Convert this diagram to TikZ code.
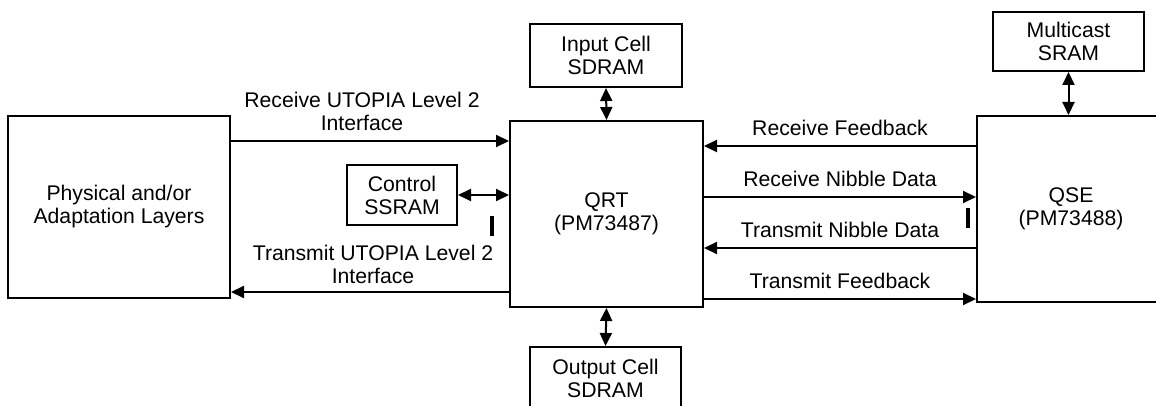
\documentclass[tikz,border=0pt]{standalone}
\usepackage{fontspec}
\setmainfont{Liberation Sans}
\usetikzlibrary{arrows.meta, positioning, calc}

\tikzset{
	blk/.style={draw, line width=1pt, inner sep=0pt, align=center, font=\fontsize{10.6}{11.5}\selectfont},
	lbl/.style={align=center, inner sep=0pt, font=\fontsize{10.6}{11.5}\selectfont},
	flow/.style={line width=1pt, -{Triangle[length=6.5pt,width=6pt]}},
	bothway/.style={line width=1pt, {Triangle[length=6.5pt,width=6pt]}-{Triangle[length=6.5pt,width=6pt]}}
}

\begin{document}
\begin{tikzpicture}[x=0.5pt, y=-0.5pt]
			
			\clip (0,0) rectangle (1156,406);
			
			% blocks
			\node [blk, minimum width=111pt, minimum height=91pt] (phys) at (119,207) {Physical and/or\\Adaptation Layers};
			\node [blk, minimum width=96.5pt, minimum height=93pt] (qrt) at (606.5,214) {QRT\\(PM73487)};
			\node [blk, minimum width=94pt, minimum height=93pt] (qse) at (1071,209) {QSE\\(PM73488)};
			\node [blk, minimum width=76pt, minimum height=31.5pt] (insd) at (606,55.5) {Input Cell\\SDRAM};
			\node [blk, minimum width=75.5pt, minimum height=31.5pt] (outsd) at (605.5,378.5) {Output Cell\\SDRAM};
			\node [blk, minimum width=55pt, minimum height=30pt] (ctrl) at (402,195) {Control\\SSRAM};
			\node [blk, minimum width=75.5pt, minimum height=29.5pt] (mcast) at (1068.5,41.5) {Multicast\\SRAM};
			
			% memories
			\draw [bothway] (insd.south) -- (qrt.north);
			\draw [bothway] (qrt.south) -- (outsd.north);
			\draw [bothway] (mcast.south) -- (mcast.south |- qse.north);
			\draw [bothway] (ctrl.east) -- (qrt.west |- ctrl.east);
			
			% UTOPIA side
			\draw [flow] (phys.east |- 0,141) -- (qrt.west |- 0,141);
			\node [lbl] (rxutopia) at (362,111) {Receive UTOPIA Level 2\\Interface};
			\draw [flow] (qrt.west |- 0,292) -- (phys.east |- 0,292);
			\node [lbl] (txutopia) at (373,264) {Transmit UTOPIA Level 2\\Interface};
			
			% QRT <-> QSE
			\foreach \yy/\src/\dst/\txt [count=\i] in {146/qse.west/qrt.east/Receive Feedback, 197/qrt.east/qse.west/Receive Nibble Data, 248/qse.west/qrt.east/Transmit Nibble Data, 299/qrt.east/qse.west/Transmit Feedback}
			{
				\draw [flow] (\src |- 0,\yy) -- (\dst |- 0,\yy);
				\node [lbl] (link\i) at (840,\yy-18.5) {\txt};
			}
			
			% small marks
			\fill (490,216) rectangle (494,236);
			\fill (966,208) rectangle (970,228);
			
			\end{tikzpicture}
\end{document}
